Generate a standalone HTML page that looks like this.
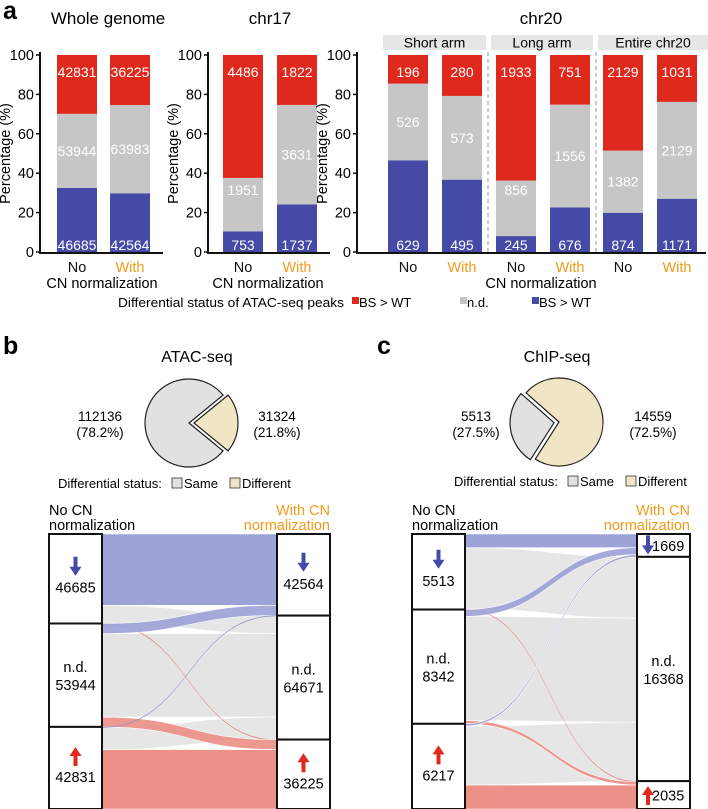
<!DOCTYPE html>
<html><head><meta charset="utf-8"><style>
html,body{margin:0;padding:0;background:#fff}
svg{display:block;font-family:"Liberation Sans",Arial,sans-serif}
</style></head><body>
<svg id="fig" width="708" height="809" viewBox="0 0 708 809" xmlns="http://www.w3.org/2000/svg"></svg>
<script>
// ---------- Panel a data ----------
const wgCats = ["No","With"];
const wgBlue = [46685, 42564];
const wgGrey = [53944, 63983];
const wgRed  = [42831, 36225];
const c17Blue = [753, 1737];
const c17Grey = [1951, 3631];
const c17Red  = [4486, 1822];
const c20Cats = ["No","With","No","With","No","With"];
const c20Blue = [629, 495, 245, 676, 874, 1171];
const c20Grey = [526, 573, 856, 1556, 1382, 2129];
const c20Red  = [196, 280, 1933, 751, 2129, 1031];
const c20Groups = ["Short arm","Long arm","Entire chr20"];
const yTicks = [0,20,40,60,80,100];
// ---------- Panel b/c data ----------
const pieBLabels = ["Same","Different"];
const pieBValues = [112136, 31324];
const pieCValues = [5513, 14559];
const nodeNames = ["down","nd","up"];
// flows[source][target]
const flowsB = [[37200, 9385, 100],[5264, 43555, 5125],[100, 11731, 31000]];
const flowsC = [[1000, 4473, 40],[500, 7597, 245],[169, 4298, 1750]];

const NS="http://www.w3.org/2000/svg";
const svg=document.getElementById('fig');
const RED="#e0291d", GREY="#c6c6c6", BLUE="#444aa6", ORANGE="#f39a1a";
function mk(tag,attrs,parent){const e=document.createElementNS(NS,tag);for(const k in attrs)e.setAttribute(k,attrs[k]);(parent||svg).appendChild(e);return e;}
function txt(s,x,y,attrs,parent){const e=mk('text',Object.assign({x:x,y:y},attrs),parent);e.textContent=s;return e;}

let t;
t=txt("a",3,19,{"font-size":25,"font-weight":"bold"});
t=txt("b",3,354,{"font-size":25,"font-weight":"bold"});
t=txt("c",377,354,{"font-size":25,"font-weight":"bold"});

// ---------- stacked bar chart helper ----------
const Y0=252, Y100=55;
function yS(p){return Y0-(Y0-Y100)*p/100;}
function barChart(name,axisX,axisEnd,barXs,bw,blue,grey,red,cats){
  const g=mk('g',{});
  
  
  for(let i=0;i<blue.length;i++){
    const tot=blue[i]+grey[i]+red[i];
    const pb=blue[i]/tot*100, pg=grey[i]/tot*100;
    const x=barXs[i];
    const segs=[[0,pb,BLUE,'blue'],[pb,pb+pg,GREY,'grey'],[pb+pg,100,RED,'red']];
    segs.forEach(s=>{
      const r=mk('rect',{x:x,y:yS(s[1]),width:bw,height:yS(s[0])-yS(s[1]),fill:s[2]},g);
      
      
    });
    const cx=x+bw/2;
    let gy=Math.min((yS(pb)+yS(pb+pg))/2,190);
    t=txt(red[i],cx,77,{"font-size":14,fill:"#fff","text-anchor":"middle"},g);
    t=txt(grey[i],cx,gy+5,{"font-size":14,fill:"#fff","text-anchor":"middle"},g);
    t=txt(blue[i],cx,250,{"font-size":14,fill:"#fff","text-anchor":"middle"},g);
    t=txt(cats[i],cx,272,{"font-size":14.5,fill:cats[i]==="With"?ORANGE:"#111","text-anchor":"middle"},g);
  }
  mk('line',{x1:axisX,y1:Y100-3,x2:axisX,y2:Y0+1,stroke:"#111","stroke-width":2},g);
  mk('line',{x1:axisX-1,y1:Y0+1,x2:axisEnd,y2:Y0+1,stroke:"#111","stroke-width":2},g);
  yTicks.forEach(v=>{
    mk('line',{x1:axisX-4,y1:yS(v),x2:axisX,y2:yS(v),stroke:"#111","stroke-width":1.5},g);
    const tl=txt(v,axisX-6,yS(v)+5,{"font-size":14.5,"text-anchor":"end"},g);
    
    
  });
  const yt=txt("Percentage (%)",0,0,{"font-size":14.5,"text-anchor":"middle",transform:`translate(${axisX-30},${(Y0+Y100)/2}) rotate(-90)`},g);
  
  
  return g;
}
barChart('whole-genome-chart',40,163,[57,110],40,wgBlue,wgGrey,wgRed,wgCats);
t=txt("Whole genome",108,24,{"font-size":17,"text-anchor":"middle"});
t=txt("CN normalization",102,288,{"font-size":14.5,"text-anchor":"middle"});
barChart('chr17-chart',208,330,[223,277],40,c17Blue,c17Grey,c17Red,wgCats);
t=txt("chr17",270,24,{"font-size":17,"text-anchor":"middle"});
t=txt("CN normalization",268,288,{"font-size":14.5,"text-anchor":"middle"});
barChart('chr20-chart',357,706,[388,442,496,550,603,657],40,c20Blue,c20Grey,c20Red,c20Cats);
t=txt("chr20",541,24,{"font-size":17,"text-anchor":"middle"});
t=txt("CN normalization",541,288,{"font-size":14.5,"text-anchor":"middle"});
const strips=[[383,103],[491,102],[598,110]];
c20Groups.forEach((gname,i)=>{
  const r=mk('rect',{x:strips[i][0],y:35,width:strips[i][1],height:15,fill:"#e6e6e6"});
  
  
  const tt=txt(gname,strips[i][0]+strips[i][1]/2,47.5,{"font-size":14,"text-anchor":"middle"});
  
  
});
[488,596].forEach(x=>{
  const l=mk('line',{x1:x,y1:52,x2:x,y2:252,stroke:"#bbb","stroke-width":1.5,"stroke-dasharray":"4,3"});
  
  
});
const lg=mk('g',{});


txt("Differential status of ATAC-seq peaks",118,307,{"font-size":13,textLength:226,lengthAdjust:"spacingAndGlyphs"},lg);
[[352,RED,"BS > WT"],[460,GREY,"n.d."],[532,BLUE,"BS > WT"]].forEach(e=>{
  const r=mk('rect',{x:e[0],y:297,width:7,height:7,fill:e[1]},lg);
  
  
  const tt=txt(e[2],e[0]+7,307,{"font-size":13},lg);
  
  
});

// ---------- pies ----------
const SAME="#e1e1e1", DIFF="#f1e5c6";
function pt(cx,cy,r,a){const rad=a*Math.PI/180;return [cx+r*Math.sin(rad),cy-r*Math.cos(rad)];}
function pie(name,cx,cy,r,vals,explodeIdx,mid){
  const g=mk('g',{});
  
  
  const tot=vals[0]+vals[1];
  const span=vals[explodeIdx]/tot*360;
  const s0=mid-span/2, s1=mid+span/2;
  const ranges=[];
  ranges[explodeIdx]=[s0,s1];
  ranges[1-explodeIdx]=[s1,s0+360];
  const cols=[SAME,DIFF];
  [1-explodeIdx,explodeIdx].forEach(i=>{
    const [a0,a1]=ranges[i];
    let ox=0,oy=0;
    if(i===explodeIdx){const o=pt(0,0,5,mid);ox=o[0];oy=o[1];}
    const p0=pt(cx+ox,cy+oy,r,a0),p1=pt(cx+ox,cy+oy,r,a1);
    const large=(a1-a0)>180?1:0;
    const p=mk('path',{d:`M${cx+ox},${cy+oy} L${p0[0]},${p0[1]} A${r},${r} 0 ${large} 1 ${p1[0]},${p1[1]} Z`,fill:cols[i],stroke:"#222","stroke-width":1.2},g);
    
    
  });
  return g;
}
pie('pie-atac',189,423,44,pieBValues,1,90);
pie('pie-chip',559,422,44,pieCValues,0,262);
function pct(v,vals){return "("+(v/(vals[0]+vals[1])*100).toFixed(1)+"%)";}
t=txt("ATAC-seq",197,362,{"font-size":16,"text-anchor":"middle"});
t=txt("ChIP-seq",557,362,{"font-size":16,"text-anchor":"middle"});
[[pieBValues[0],100,pieBValues],[pieBValues[1],277,pieBValues],[pieCValues[0],476,pieCValues],[pieCValues[1],653,pieCValues]].forEach(e=>{
  const a=txt(e[0],e[1],421,{"font-size":13.5,"text-anchor":"middle"});
  
  
  const b=txt(pct(e[0],e[2]),e[1],437,{"font-size":13.5,"text-anchor":"middle"});
  
  
});
function pieLegend(x,y){
  const g=mk('g',{});
  
  
  txt("Differential status:",x,y,{"font-size":13},g);
  mk('rect',{x:x+114,y:y-10,width:10,height:10,fill:SAME,stroke:"#333","stroke-width":0.8},g);
  txt("Same",x+126,y,{"font-size":13},g);
  mk('rect',{x:x+172,y:y-10,width:10,height:10,fill:DIFF,stroke:"#333","stroke-width":0.8},g);
  txt("Different",x+184,y,{"font-size":13},g);
}
pieLegend(58,488);
pieLegend(454,486);

// ---------- sankeys ----------
const BANDC=["#9ea3d7","#e4e4e4","#ec9088"];
const LINEC=["#8a8fcf","#d8d8d8","#e27a72"];
function sankey(name,lx,rx,bw,top,bottom,flows,rightInline){
  const g=mk('g',{});
  
  
  const n=3;
  const srcT=flows.map(r=>r.reduce((a,b)=>a+b,0));
  const tgtT=[0,1,2].map(j=>flows.reduce((a,r)=>a+r[j],0));
  const total=srcT.reduce((a,b)=>a+b,0);
  const k=(bottom-top)/total;
  const sy=[],ty=[];let acc=top;
  srcT.forEach(v=>{sy.push(acc);acc+=v*k;});acc=top;
  tgtT.forEach(v=>{ty.push(acc);acc+=v*k;});
  const sOff=sy.slice(), tOff=ty.slice();
  const x0=lx+bw, x1=rx, xm=(x0+x1)/2;
  const bands=[];
  for(let i=0;i<n;i++)for(let j=0;j<n;j++){
    const h=flows[i][j]*k;
    bands.push({i:i,j:j,a:sOff[i],b:tOff[j],h:h});
    sOff[i]+=h;
  }
  for(let j=0;j<n;j++)for(let i=0;i<n;i++){const bd=bands[i*n+j];bd.b=tOff[j];tOff[j]+=bd.h;}
  const order=bands.slice().sort((p,q)=>(p.j===1?0:1)-(q.j===1?0:1));
  order.forEach(bd=>{
    const h=Math.max(bd.h,0.8);
    const d=`M${x0},${bd.a} C${xm},${bd.a} ${xm},${bd.b} ${x1},${bd.b} L${x1},${bd.b+h} C${xm},${bd.b+h} ${xm},${bd.a+h} ${x0},${bd.a+h} Z`;
    const p=mk('path',{d:d,fill:bd.h<1.5?LINEC[bd.j]:BANDC[bd.j],stroke:"#fff","stroke-width":bd.h<1.5?0:0.6,opacity:bd.i===bd.j?1:0.92},g);
    
    
  });
  function node(x,y,h,val,idx,side,inline){
    const r=mk('rect',{x:x,y:y,width:bw,height:h,fill:"#fff",stroke:"#111","stroke-width":2},g);
    
    
    const cx=x+bw/2, cy=y+h/2;
    const col=idx===0?BLUE:RED;
    function arrow(ax,ay,down){
      const s=down?1:-1;
      const a=mk('path',{d:`M${ax-2},${ay-10*s} L${ax+2},${ay-10*s} L${ax+2},${ay} L${ax+6},${ay} L${ax},${ay+9*s} L${ax-6},${ay} L${ax-2},${ay} Z`,fill:col},g);
      
      
    }
    if(idx===1){
      txt("n.d.",cx,cy-3,{"font-size":14.5,"text-anchor":"middle"},g);
      txt(val,cx,cy+15,{"font-size":14.5,"text-anchor":"middle"},g);
    } else if(inline){
      arrow(x+11,cy,idx===0);
      txt(val,x+15,cy+5.5,{"font-size":14.5},g);
    } else {
      arrow(cx,cy-12,idx===0);
      txt(val,cx,cy+14,{"font-size":14.5,"text-anchor":"middle"},g);
    }
  }
  for(let i=0;i<n;i++)node(lx,sy[i],srcT[i]*k,srcT[i],i,'left',false);
  for(let j=0;j<n;j++)node(rx,ty[j],tgtT[j]*k,tgtT[j],j,'right',rightInline);
  txt("No CN",lx,515,{"font-size":14.5},g);
  txt("normalization",lx,530,{"font-size":14.5},g);
  txt("With CN",rx+bw,515,{"font-size":14.5,fill:ORANGE,"text-anchor":"end"},g);
  txt("normalization",rx+bw,530,{"font-size":14.5,fill:ORANGE,"text-anchor":"end"},g);
}
sankey('sankey-atac',49,277,53,534,809,flowsB,false);
sankey('sankey-chip',412,637,53,534,809,flowsC,true);
</script>
</body></html>
